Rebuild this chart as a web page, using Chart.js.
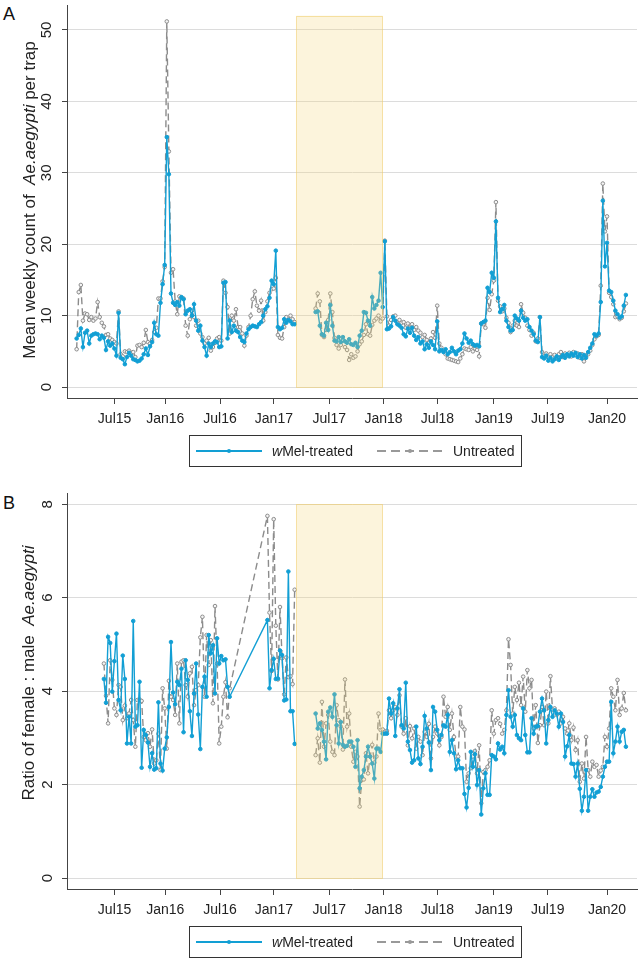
<!DOCTYPE html>
<html>
<head>
<meta charset="utf-8">
<script src="https://cdn.jsdelivr.net/npm/chart.js@4.4.0/dist/chart.umd.min.js"></script>
<style>
body { margin: 0; background: #fff; font-family: "Liberation Sans", Arial, sans-serif; }
#wrap { position: relative; width: 642px; height: 960px; overflow: hidden; }
canvas { position: absolute; left: 0; }
.letter { position: absolute; left: 3px; font-size: 18px; line-height: 1; color: #111; }
.legend { position: absolute; left: 189px; width: 331px; height: 30px; border: 1px solid #333; font-size: 14px; color: #222; }
.legend svg, .legend span { position: absolute; top: 50%; transform: translateY(-50%); }
</style>
</head>
<body>
<div id="wrap">
  <div class="letter" style="top:5px">A</div>
  <canvas id="chartA" width="642" height="436" style="top:0"></canvas>
  <div class="legend" style="top:435px">
    <svg style="left:6px" width="66" height="8"><line x1="0" y1="4" x2="66" y2="4" stroke="#129fd4" stroke-width="2"/><circle cx="33" cy="4" r="2" fill="#129fd4"/></svg>
    <span style="left:82px"><i>w</i>Mel-treated</span>
    <svg style="left:187px" width="66" height="8"><line x1="0" y1="4" x2="66" y2="4" stroke="#999" stroke-width="2" stroke-dasharray="9 5"/><circle cx="33" cy="4" r="2" fill="#999"/></svg>
    <span style="left:263px">Untreated</span>
  </div>

  <div class="letter" style="top:494px">B</div>
  <canvas id="chartB" width="642" height="447" style="top:480px"></canvas>
  <div class="legend" style="top:926px">
    <svg style="left:6px" width="66" height="8"><line x1="0" y1="4" x2="66" y2="4" stroke="#129fd4" stroke-width="2"/><circle cx="33" cy="4" r="2" fill="#129fd4"/></svg>
    <span style="left:82px"><i>w</i>Mel-treated</span>
    <svg style="left:187px" width="66" height="8"><line x1="0" y1="4" x2="66" y2="4" stroke="#999" stroke-width="2" stroke-dasharray="9 5"/><circle cx="33" cy="4" r="2" fill="#999"/></svg>
    <span style="left:263px">Untreated</span>
  </div>
</div>
<script>
// x axis: survey week number (week 0 = first survey week, late Feb 2015)
var tickWeeks = [18.1, 42.3, 68.4, 94.1, 120.5, 146.4, 172.1, 199.0, 224.7, 253.0];
var tickLabels = ['Jul15', 'Jan16', 'Jul16', 'Jan17', 'Jul17', 'Jan18', 'Jul18', 'Jan19', 'Jul19', 'Jan20'];
var bandWeeks = [104.8, 146.0];

// panel A - mean weekly count per trap
var aYTicks = [0, 10, 20, 30, 40, 50];
var aStarts = [0, 114];
var aJoins = [false];
var aTreated1 = [
  6.8, 7.3, 8.2, 5.6, 7.6, 7.9, 6.1, 7.2, 7.4, 7.5,
  7.4, 6.7, 7.2, 6.9, 5.2, 6.4, 5.8, 6.1, 5.4, 4.4,
  10.4, 4.1, 3.9, 3.2, 4.2, 4.8, 4.4, 3.9, 3.8, 3.6,
  3.7, 4.0, 4.6, 5.4, 4.5, 5.7, 6.3, 9.0, 7.4, 7.2,
  11.8, 14.4, 17.1, 35.0, 29.8, 13.1, 11.8, 11.5, 11.9, 11.4,
  12.6, 12.3, 10.2, 10.7, 10.9, 10.0, 11.6, 9.3, 7.9, 8.6,
  6.5, 5.6, 4.4, 6.1, 5.6, 6.1, 6.4, 6.3, 5.6, 5.7,
  14.6, 14.7, 6.8, 9.3, 7.7, 8.6, 7.9, 7.7, 7.0, 6.5,
  6.3, 7.5, 8.1, 8.4, 8.6, 8.5, 8.4, 8.8, 9.1, 10.0,
  10.9, 11.3, 12.5, 14.9, 14.4, 19.1, 8.4, 8.1, 8.3, 9.5,
  9.0, 9.4, 9.2, 8.8, 8.8
];
var aUntreated1 = [
  5.3, 13.3, 14.3, 9.3, 10.3, 10.2, 9.4, 9.8, 9.3, 9.6,
  11.9, 9.8, 9.0, 8.5, 7.3, 7.4, 6.8, 6.6, 6.3, 6.1,
  10.6, 4.6, 4.3, 5.0, 4.9, 5.1, 4.8, 4.9, 4.2, 5.8,
  5.9, 5.6, 6.2, 8.0, 6.3, 6.1, 6.6, 7.7, 8.3, 12.4,
  12.4, 14.8, 16.8, 51.2, 33.0, 16.0, 16.5, 12.0, 10.2, 12.7,
  12.5, 12.4, 8.6, 7.2, 9.5, 10.7, 9.8, 8.6, 9.3, 7.5,
  7.0, 6.1, 6.5, 6.9, 5.1, 5.6, 6.2, 6.8, 7.0, 6.5,
  14.9, 13.2, 11.2, 7.5, 10.0, 9.3, 10.9, 8.4, 8.4, 7.5,
  5.8, 7.2, 8.4, 10.0, 12.3, 13.4, 11.4, 10.7, 12.1, 9.3,
  10.5, 12.0, 13.2, 13.7, 13.8, 15.3, 7.3, 6.9, 6.8, 8.4,
  9.8, 9.4, 10.0, 9.5, 9.1
];
var aTreated2 = [
  10.5, 10.6, 8.6, 7.4, 7.2, 9.0, 8.0, 11.5, 8.6, 6.5,
  6.4, 7.0, 6.3, 7.0, 6.4, 6.2, 6.7, 6.0, 5.9, 6.2,
  5.6, 7.2, 7.9, 10.5, 10.4, 9.3, 8.6, 12.6, 11.0, 11.5,
  12.1, 16.0, 11.2, 20.4, 8.1, 8.2, 8.5, 9.8, 9.3, 8.8,
  8.6, 8.3, 7.4, 7.1, 8.2, 7.6, 8.3, 7.2, 6.6, 7.0,
  6.1, 6.4, 5.3, 6.0, 5.5, 6.4, 5.9, 5.3, 9.2, 5.0,
  5.2, 4.9, 5.3, 4.6, 4.9, 5.5, 5.0, 4.6, 5.1, 5.3,
  6.1, 7.5, 6.8, 6.2, 6.5, 6.0, 5.8, 5.9, 5.7, 8.9,
  9.1, 9.3, 13.9, 13.3, 16.0, 15.3, 23.2, 12.5, 10.5, 10.9,
  11.5, 9.3, 8.4, 7.9, 8.0, 10.0, 9.6, 9.3, 10.7, 9.7,
  9.3, 9.5, 8.4, 7.9, 7.4, 6.5, 6.3, 9.8, 4.2, 4.0,
  4.4, 3.7, 4.1, 3.6, 3.9, 4.3, 3.8, 4.2, 4.5, 4.1,
  4.6, 4.3, 4.7, 4.4, 4.8, 4.2, 4.6, 4.0, 4.5, 4.1,
  4.9, 5.5, 6.1, 7.4, 7.2, 7.5, 11.9, 26.1, 16.9, 20.2,
  13.5, 13.3, 12.1, 10.7, 10.2, 9.7, 9.9, 11.4, 12.9
];
var aUntreated2 = [
  11.0, 13.1, 12.0, 7.3, 7.0, 8.0, 9.4, 13.1, 10.5, 6.9,
  5.9, 5.4, 5.9, 6.6, 5.6, 5.2, 3.8, 4.6, 4.1, 4.3,
  5.0, 6.0, 6.4, 7.3, 8.8, 7.4, 7.2, 8.7, 9.3, 9.6,
  10.0, 9.2, 9.6, 20.5, 9.9, 8.6, 9.4, 9.9, 10.0, 9.0,
  9.4, 9.0, 9.1, 8.3, 8.9, 8.3, 8.8, 8.0, 8.4, 7.9,
  7.6, 7.0, 7.3, 6.6, 6.2, 6.8, 7.7, 6.9, 11.4, 6.1,
  5.5, 5.1, 4.6, 4.0, 3.9, 3.8, 3.7, 3.6, 3.5, 4.0,
  4.6, 5.4, 5.3, 5.2, 5.6, 5.0, 5.4, 5.2, 4.3, 8.9,
  8.8, 8.3, 12.5, 10.8, 13.0, 14.9, 25.9, 12.1, 11.3, 10.6,
  11.0, 9.7, 9.0, 7.7, 8.6, 9.3, 8.6, 8.4, 11.6, 10.4,
  9.7, 8.6, 8.0, 7.2, 7.6, 6.4, 6.8, 9.8, 4.9, 4.3,
  4.7, 4.1, 4.6, 4.2, 4.5, 4.0, 4.6, 4.9, 4.2, 4.7,
  4.4, 4.8, 4.3, 4.9, 4.5, 4.7, 4.1, 4.6, 3.6, 4.4,
  4.6, 5.1, 5.9, 6.7, 7.1, 7.3, 14.2, 28.5, 21.8, 23.9,
  13.2, 12.6, 11.6, 9.8, 9.9, 9.5, 9.7, 10.6, 11.7
];

// panel B - ratio of female : male
var bYTicks = [0, 2, 4, 6, 8];
var bStarts = [13, 91, 114];
var bJoins = [true, false];
var bTreated1 = [
  4.26, 3.75, 5.16, 5.03, 3.99, 4.64, 5.23, 3.81, 3.59, 4.76,
  4.26, 2.88, 3.45, 2.88, 5.50, 3.24, 3.27, 4.20, 2.36, 3.17,
  3.06, 2.90, 2.38, 2.67, 2.32, 2.35, 3.76, 2.45, 2.30, 2.77,
  3.01, 3.66, 5.05, 3.97, 3.72, 4.20, 4.13, 4.48, 3.12, 4.66,
  4.24, 3.57, 3.04, 3.95, 4.59, 3.50, 2.76, 4.09, 4.31, 3.88,
  5.20, 4.81, 4.98, 3.95, 5.13, 4.59, 4.75, 4.66, 4.68, 4.09, 3.88
];
var bUntreated1 = [
  4.59, 3.90, 3.31, 4.66, 4.24, 3.63, 3.49, 4.13, 4.09, 3.38,
  3.69, 3.42, 3.52, 3.81, 3.38, 2.81, 3.81, 3.82, 3.79, 3.02,
  2.95, 3.10, 2.81, 3.18, 2.45, 2.52, 3.09, 2.31, 4.06, 3.63,
  2.77, 4.22, 3.88, 3.81, 3.49, 4.59, 3.31, 4.63, 4.66, 4.13,
  3.88, 4.38, 4.52, 3.70, 4.02, 4.13, 5.15, 5.59, 3.88, 5.20,
  4.56, 5.09, 3.74, 5.82, 4.59, 2.88, 3.24, 3.88, 4.19, 3.44, 4.06
];
var bTreated2 = [5.52, 4.06, 4.45, 4.69, 4.26, 4.27, 4.87, 4.77, 3.80, 3.82, 6.56, 3.57, 3.57, 2.87];
var bUntreated2 = [7.75, 5.68, 4.43, 7.68, 5.40, 4.25, 5.80, 4.70, 3.93, 4.72, 4.30, 4.32, 4.15, 6.17];
var bTreated3 = [
  3.52, 3.20, 3.31, 3.17, 2.92, 2.54, 3.56, 3.65, 3.45, 3.93,
  3.27, 2.88, 3.34, 2.85, 2.81, 2.83, 2.92, 2.92, 2.81, 2.38,
  2.95, 1.92, 2.17, 2.31, 2.60, 2.81, 2.60, 2.45, 2.13, 2.77,
  2.77, 2.70, 3.09, 3.09, 3.09, 3.84, 3.52, 3.74, 3.04, 3.63,
  4.04, 3.27, 3.20, 4.18, 2.92, 2.74, 2.47, 2.52, 3.24, 2.56,
  2.44, 2.81, 3.47, 3.20, 2.90, 2.31, 3.66, 3.56, 3.17, 2.95,
  3.06, 3.27, 3.24, 3.49, 2.70,
  2.95, 2.67, 2.33, 2.52, 2.35, 2.35, 1.80, 1.51, 1.93, 2.70,
  2.38, 2.65, 1.99, 2.31, 1.36, 1.92, 2.24, 1.78, 1.78, 2.63,
  2.60, 2.54, 2.88, 2.75, 2.81, 2.67, 3.49, 4.02, 3.45, 3.24,
  3.49, 3.06, 2.99, 2.95, 3.63, 3.06, 2.69, 2.69, 3.42, 3.09,
  3.24, 3.25, 3.56, 3.84, 3.59, 2.88, 3.38, 3.66, 3.45, 3.59,
  3.52, 3.24, 3.52, 3.34, 2.60, 2.82, 3.06, 2.45, 2.44, 2.17,
  2.45, 1.91, 1.44, 1.74, 2.31, 1.44, 1.74, 1.90, 1.74, 1.83,
  1.85, 1.95, 2.17, 2.38, 2.49, 2.49, 3.77, 2.67, 2.92, 3.24,
  2.92, 3.13, 3.17, 2.81
];
var bUntreated3 = [
  2.63, 2.99, 2.47, 3.77, 2.81, 3.31, 3.49, 2.92, 2.70, 2.63,
  3.70, 3.38, 3.24, 2.75, 4.25, 3.24, 3.52, 2.81, 2.49, 2.70,
  2.60, 1.53, 2.10, 2.11, 2.67, 2.24, 2.60, 2.85, 2.47, 2.60,
  3.52, 3.17, 3.18, 3.13, 3.15, 3.59, 3.42, 3.59, 3.66, 3.49,
  3.91, 3.24, 3.09, 3.42, 2.84, 3.25, 2.99, 3.20, 2.77, 3.02,
  2.92, 2.63, 3.13, 3.02, 3.30, 2.56, 3.02, 3.24, 3.09, 2.84,
  3.02, 3.88, 3.45, 3.66, 3.17,
  3.52, 3.02, 2.60, 2.60, 3.66, 3.24, 3.18, 2.06, 2.24, 2.35,
  2.60, 2.72, 2.24, 2.84, 1.60, 2.27, 2.31, 2.38, 2.52, 3.59,
  3.09, 3.38, 3.42, 3.30, 3.09, 3.17, 3.59, 5.11, 4.56, 3.52,
  4.09, 3.81, 4.18, 3.70, 4.31, 3.56, 4.45, 4.06, 4.24, 3.20,
  3.70, 2.89, 3.27, 3.66, 3.27, 3.99, 3.31, 4.32, 3.60, 3.63,
  3.49, 3.56, 3.31, 3.45, 3.20, 3.09, 3.31, 2.95, 3.22, 2.74,
  2.95, 2.06, 2.45, 2.13, 3.02, 2.31, 2.17, 2.49, 2.38, 2.42,
  2.17, 2.30, 2.38, 3.02, 2.81, 3.20, 4.06, 3.88, 3.59, 4.24,
  3.49, 3.63, 3.96, 3.59
];

var BLUE = '#129fd4';
var GREY = '#8c8c8c';
var FONT = '"Liberation Sans", Arial, sans-serif';

// turn segments into {x,y}; a null point breaks the line between unjoined segments
function series(segs, starts, joins) {
  var pts = [];
  segs.forEach(function (vals, s) {
    if (s > 0 && !joins[s - 1]) pts.push({ x: starts[s] - 0.5, y: null });
    vals.forEach(function (v, i) { pts.push({ x: starts[s] + i, y: v }); });
  });
  return pts;
}

// shaded period, rotated y tick labels and y title with italic part
var decor = {
  id: 'decor',
  afterDatasetsDraw: function (chart, args, o) {
    var ctx = chart.ctx, x = chart.scales.x, y = chart.scales.y;
    var x0 = x.getPixelForValue(bandWeeks[0]), x1 = x.getPixelForValue(bandWeeks[1]);
    var y0 = y.getPixelForValue(0), y1 = y.getPixelForValue(o.bandTop);
    ctx.save();
    ctx.fillStyle = 'rgba(245,212,115,0.25)';
    ctx.fillRect(x0, y1, x1 - x0, y0 - y1);
    ctx.strokeStyle = 'rgba(240,205,110,0.55)';
    ctx.lineWidth = 1;
    ctx.strokeRect(Math.round(x0) + 0.5, Math.round(y1) + 0.5, Math.round(x1 - x0), Math.round(y0 - y1));
    ctx.restore();
  },
  afterDraw: function (chart, args, o) {
    var ctx = chart.ctx, y = chart.scales.y;
    ctx.save();
    ctx.fillStyle = '#222';
    ctx.textBaseline = 'middle';
    ctx.textAlign = 'center';
    ctx.font = '15px ' + FONT;
    y.ticks.forEach(function (t) {
      ctx.save();
      ctx.translate(o.tickX, y.getPixelForValue(t.value));
      ctx.rotate(-Math.PI / 2);
      ctx.fillText(String(t.value), 0, 0);
      ctx.restore();
    });
    // title
    var fonts = o.title.map(function (p) { return (p[1] ? 'italic ' : '') + '17px ' + FONT; });
    var widths = o.title.map(function (p, i) { ctx.font = fonts[i]; return ctx.measureText(p[0]).width; });
    var total = widths.reduce(function (a, b) { return a + b; }, 0);
    ctx.translate(o.titleX, o.titleY);
    ctx.rotate(-Math.PI / 2);
    ctx.textAlign = 'left';
    var pos = -total / 2;
    o.title.forEach(function (p, i) {
      ctx.font = fonts[i];
      ctx.fillText(p[0], pos, 0);
      pos += widths[i];
    });
    ctx.restore();
  }
};

function makeChart(id, treated, untreated, yMin, yMax, yTicks, padTop, deco) {
  return new Chart(document.getElementById(id), {
    type: 'line',
    data: {
      datasets: [
        {
          label: 'wMel-treated',
          data: treated,
          borderColor: BLUE,
          backgroundColor: BLUE,
          borderWidth: 1.4,
          pointRadius: 1.8,
          pointBorderWidth: 1,
          pointBorderColor: BLUE,
          pointBackgroundColor: BLUE,
          tension: 0
        },
        {
          label: 'Untreated',
          data: untreated,
          borderColor: GREY,
          borderWidth: 1.4,
          borderDash: [7, 4],
          pointRadius: 1.8,
          pointBorderWidth: 1,
          pointBorderColor: GREY,
          pointBackgroundColor: '#f4f4f4',
          tension: 0
        }
      ]
    },
    options: {
      responsive: false,
      animation: false,
      devicePixelRatio: 1,
      spanGaps: false,
      layout: { padding: { top: padTop, right: 1, left: 0, bottom: 0 } },
      plugins: {
        legend: { display: false },
        tooltip: { enabled: false },
        decor: deco
      },
      scales: {
        x: {
          type: 'linear',
          min: -4.6,
          max: 267.3,
          afterBuildTicks: function (s) { s.ticks = tickWeeks.map(function (v) { return { value: v }; }); },
          afterFit: function (s) { s.height = 38; },
          ticks: {
            autoSkip: false,
            maxRotation: 0,
            padding: 7,
            color: '#222',
            font: { size: 14, family: FONT },
            callback: function (v, i) { return tickLabels[i]; }
          },
          grid: { drawOnChartArea: false, tickColor: '#444', tickLength: 6 },
          border: { color: '#444', width: 1 }
        },
        y: {
          min: yMin,
          max: yMax,
          afterBuildTicks: function (s) { s.ticks = yTicks.map(function (v) { return { value: v }; }); },
          afterFit: function (s) { s.width = 67; },
          ticks: { display: false },
          grid: { color: '#dcdcdc', lineWidth: 1, tickColor: '#444', tickLength: 5 },
          border: { color: '#444', width: 1 }
        }
      }
    },
    plugins: [decor]
  });
}

var chartA = makeChart('chartA',
  series([aTreated1, aTreated2], aStarts, aJoins),
  series([aUntreated1, aUntreated2], aStarts, aJoins),
  -1.53, 53.5, aYTicks, 2,
  { bandTop: 52, tickX: 47, titleX: 30, titleY: 200,
    title: [['Mean weekly count of  ', false], ['Ae.aegypti', true], [' per trap', false]] });

var chartB = makeChart('chartB',
  series([bTreated1, bTreated2, bTreated3], bStarts, bJoins),
  series([bUntreated1, bUntreated2, bUntreated3], bStarts, bJoins),
  -0.235, 8.24, bYTicks, 13,
  { bandTop: 8, tickX: 48, titleX: 29, titleY: 193,
    title: [['Ratio of female : male  ', false], ['Ae.aegypti', true]] });
</script>
</body>
</html>
